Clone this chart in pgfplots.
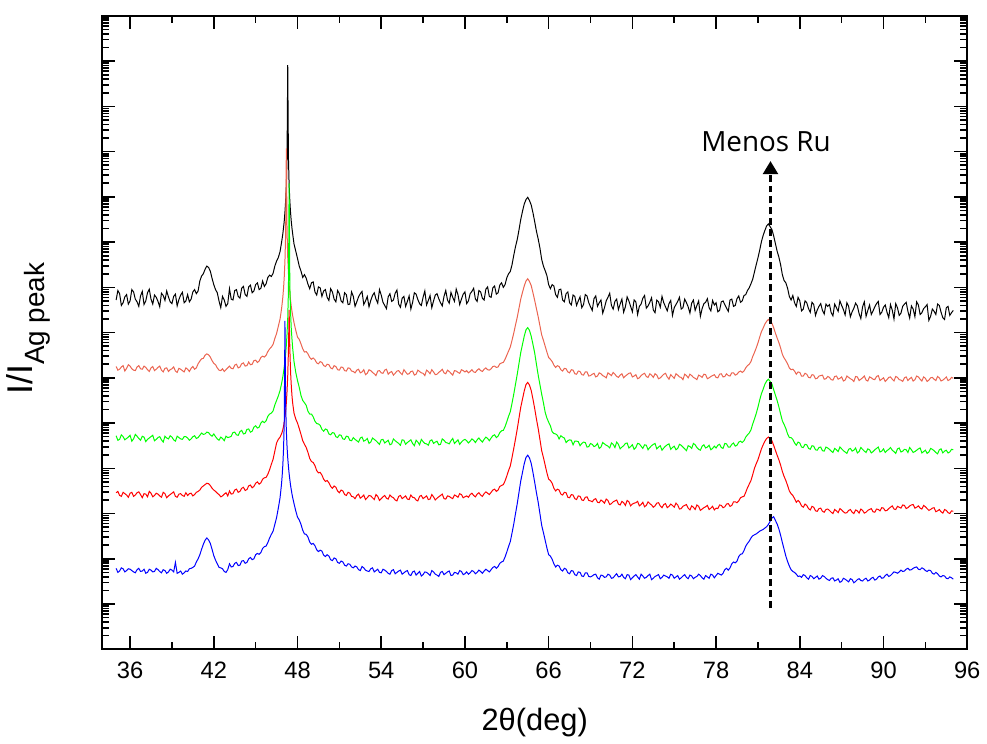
\documentclass[border=0pt]{standalone}
\usepackage{fontspec}
\setmainfont{Liberation Sans}
\newfontfamily\annfont{Open Sans}
\usepackage{pgfplots}
\pgfplotsset{compat=1.18}
\usepackage{pgfplotstable}
\usetikzlibrary{arrows.meta}
\definecolor{salmon}{RGB}{235,100,80}
\definecolor{lgreen}{RGB}{0,255,0}

% columns: 2theta, then log10 intensity (stacked) for the five patterns
\pgfplotstableread{
x k s g r b
35.000 7.72 6.25 4.72 3.46 1.79
35.125 7.93 6.17 4.62 3.49 1.70
35.250 7.86 6.19 4.64 3.40 1.73
35.375 7.60 6.24 4.74 3.38 1.80
35.500 7.66 6.27 4.70 3.47 1.78
35.625 7.79 6.15 4.63 3.44 1.71
35.750 7.84 6.21 4.66 3.41 1.74
35.875 7.63 6.29 4.69 3.36 1.78
36.000 7.70 6.26 4.73 3.45 1.77
36.125 7.95 6.20 4.60 3.47 1.74
36.250 7.90 6.17 4.65 3.38 1.71
36.375 7.74 6.16 4.75 3.41 1.69
36.500 7.68 6.24 4.71 3.46 1.76
36.625 7.58 6.27 4.66 3.48 1.79
36.750 7.81 6.20 4.62 3.42 1.72
36.875 7.91 6.19 4.71 3.35 1.73
37.000 7.62 6.26 4.69 3.44 1.77
37.125 7.70 6.23 4.59 3.43 1.68
37.250 7.88 6.18 4.64 3.37 1.70
37.375 7.96 6.14 4.67 3.49 1.77
37.500 7.74 6.22 4.70 3.45 1.75
37.625 7.63 6.25 4.73 3.37 1.71
37.750 7.83 6.16 4.61 3.40 1.72
37.875 7.78 6.19 4.64 3.45 1.79
38.000 7.69 6.23 4.68 3.43 1.76
38.125 7.57 6.26 4.70 3.39 1.72
38.250 7.87 6.17 4.63 3.36 1.69
38.375 7.82 6.13 4.58 3.47 1.76
38.500 7.71 6.21 4.71 3.44 1.74
38.625 7.92 6.22 4.67 3.35 1.68
38.750 7.79 6.14 4.65 3.39 1.71
38.875 7.68 6.18 4.72 3.42 1.77
39.000 7.64 6.20 4.69 3.45 1.75
39.125 7.80 6.24 4.63 3.48 1.71
39.250 7.85 6.15 4.60 3.38 1.92
39.375 7.59 6.12 4.71 3.36 1.68
39.500 7.73 6.21 4.68 3.43 1.70
39.625 7.83 6.19 4.65 3.44 1.73
39.750 7.89 6.16 4.64 3.40 1.66
39.875 7.66 6.13 4.70 3.38 1.69
40.000 7.70 6.22 4.70 3.46 1.73
40.125 7.84 6.19 4.67 3.40 1.72
40.250 7.68 6.14 4.62 3.44 1.78
40.375 7.74 6.21 4.65 3.45 1.79
40.500 7.90 6.25 4.70 3.39 1.81
40.625 7.95 6.19 4.72 3.42 1.84
40.750 7.86 6.22 4.66 3.47 1.93
40.875 7.92 6.31 4.68 3.49 2.00
41.000 8.14 6.37 4.73 3.52 2.09
41.125 8.25 6.42 4.78 3.58 2.21
41.250 8.30 6.43 4.75 3.61 2.32
41.375 8.40 6.50 4.76 3.64 2.41
41.500 8.47 6.53 4.80 3.67 2.46
41.625 8.44 6.51 4.79 3.66 2.42
41.750 8.36 6.46 4.74 3.62 2.34
41.875 8.20 6.38 4.71 3.56 2.21
42.000 8.06 6.32 4.76 3.52 2.07
42.125 7.95 6.29 4.70 3.49 1.97
42.250 7.88 6.22 4.65 3.45 1.89
42.375 7.70 6.17 4.62 3.42 1.81
42.500 7.55 6.16 4.69 3.37 1.80
42.625 7.80 6.20 4.66 3.39 1.78
42.750 7.72 6.14 4.61 3.43 1.72
42.875 7.58 6.18 4.71 3.46 1.70
43.000 7.64 6.22 4.68 3.39 1.76
43.125 7.97 6.26 4.69 3.50 1.89
43.250 7.74 6.21 4.71 3.43 1.82
43.375 7.72 6.20 4.79 3.44 1.83
43.500 7.93 6.28 4.80 3.52 1.90
43.625 7.95 6.30 4.74 3.54 1.92
43.750 7.80 6.22 4.73 3.47 1.85
43.875 7.76 6.24 4.81 3.49 1.86
44.000 7.98 6.31 4.84 3.56 1.95
44.125 8.02 6.33 4.76 3.58 1.96
44.250 7.84 6.26 4.77 3.51 1.90
44.375 7.80 6.27 4.86 3.53 1.92
44.500 8.01 6.35 4.87 3.61 2.00
44.625 8.05 6.29 4.80 3.63 2.03
44.750 7.88 6.30 4.82 3.57 1.98
44.875 7.92 6.38 4.91 3.60 2.00
45.000 8.06 6.39 4.94 3.67 2.09
45.125 8.10 6.34 4.89 3.70 2.12
45.250 7.95 6.37 4.91 3.65 2.10
45.375 7.98 6.45 5.00 3.68 2.14
45.500 8.14 6.48 5.04 3.76 2.23
45.625 8.02 6.46 5.01 3.79 2.27
45.750 8.08 6.50 5.05 3.80 2.28
45.875 8.22 6.58 5.15 3.87 2.36
46.000 8.27 6.64 5.20 3.97 2.46
46.125 8.24 6.68 5.22 4.09 2.54
46.250 8.31 6.74 5.27 4.20 2.61
46.375 8.47 6.87 5.40 4.38 2.76
46.500 8.58 6.98 5.50 4.56 2.91
46.625 8.66 7.14 5.60 4.64 3.12
46.750 8.79 7.30 5.72 4.69 3.35
46.850 8.98 7.51 5.86 4.76 3.64
46.900 9.08 7.64 5.94 4.80 3.83
46.950 9.19 7.79 6.03 4.86 4.08
47.000 9.32 7.98 6.13 4.93 4.43
47.050 9.47 8.23 6.24 5.02 5.03
47.100 9.66 8.58 6.37 5.13 7.26
47.150 9.91 9.18 6.53 5.27 5.44
47.200 10.26 11.07 6.72 5.45 4.83
47.250 10.86 9.26 6.97 5.70 4.48
47.300 12.91 8.66 7.32 6.05 4.23
47.350 10.86 8.31 7.92 6.60 4.04
47.400 10.26 8.06 10.30 7.50 3.88
47.450 9.91 7.87 8.07 6.65 3.75
47.500 9.66 7.72 7.47 6.15 3.63
47.550 9.47 7.59 7.11 5.85 3.53
47.600 9.32 7.48 6.87 5.62 3.44
47.650 9.19 7.38 6.67 5.45 3.36
47.750 8.96 7.22 6.36 5.22 3.22
47.875 8.80 7.05 6.12 5.09 3.06
48.000 8.64 6.90 5.94 5.00 2.92
48.125 8.47 6.85 5.79 4.88 2.86
48.250 8.36 6.75 5.61 4.75 2.76
48.375 8.22 6.64 5.50 4.61 2.63
48.500 8.28 6.57 5.45 4.53 2.55
48.625 8.20 6.58 5.39 4.46 2.54
48.750 8.07 6.53 5.26 4.35 2.48
48.875 7.97 6.45 5.20 4.22 2.37
49.000 8.10 6.41 5.20 4.15 2.32
49.125 8.12 6.44 5.14 4.13 2.34
49.250 7.90 6.40 5.04 4.06 2.29
49.375 7.83 6.33 4.99 3.95 2.20
49.500 8.01 6.31 4.98 3.90 2.16
49.625 7.99 6.36 4.95 3.91 2.19
49.750 7.80 6.34 4.86 3.85 2.17
49.875 7.92 6.27 4.82 3.76 2.08
50.000 7.95 6.25 4.87 3.71 2.05
50.125 7.78 6.30 4.85 3.73 2.09
50.250 7.71 6.29 4.76 3.68 2.06
50.375 7.97 6.22 4.74 3.60 1.98
50.500 7.90 6.20 4.79 3.56 1.96
50.625 7.74 6.27 4.78 3.61 2.02
50.750 7.68 6.25 4.70 3.58 2.00
50.875 7.93 6.18 4.68 3.50 1.92
51.000 7.86 6.17 4.74 3.46 1.90
51.125 7.70 6.24 4.73 3.52 1.95
51.250 7.66 6.23 4.65 3.50 1.93
51.375 7.88 6.16 4.64 3.42 1.86
51.500 7.84 6.15 4.71 3.40 1.84
51.625 7.62 6.22 4.70 3.47 1.89
51.750 7.63 6.21 4.62 3.45 1.88
51.875 7.90 6.15 4.61 3.38 1.82
52.000 7.80 6.14 4.68 3.37 1.80
52.125 7.58 6.11 4.64 3.33 1.84
52.250 7.68 6.17 4.61 3.40 1.82
52.375 7.79 6.19 4.58 3.43 1.76
52.500 7.86 6.11 4.67 3.34 1.74
52.625 7.91 6.13 4.69 3.37 1.83
52.750 7.62 6.18 4.60 3.41 1.80
52.875 7.70 6.07 4.62 3.31 1.75
53.000 7.80 6.10 4.66 3.35 1.73
53.125 7.57 6.18 4.55 3.40 1.72
53.250 7.71 6.16 4.58 3.39 1.78
53.375 7.82 6.12 4.67 3.35 1.80
53.500 7.88 6.09 4.64 3.31 1.71
53.625 7.74 6.05 4.61 3.42 1.74
53.750 7.65 6.15 4.57 3.38 1.77
53.875 7.95 6.16 4.53 3.29 1.70
54.000 7.83 6.11 4.63 3.33 1.69
54.125 7.67 6.10 4.64 3.37 1.77
54.250 7.60 6.17 4.56 3.40 1.75
54.375 7.53 6.19 4.59 3.34 1.72
54.500 7.79 6.08 4.62 3.32 1.68
54.625 7.86 6.12 4.52 3.41 1.66
54.750 7.69 6.14 4.54 3.37 1.74
54.875 7.72 6.06 4.65 3.35 1.76
55.000 7.87 6.10 4.61 3.30 1.67
55.125 7.94 6.15 4.58 3.28 1.70
55.250 7.63 6.16 4.55 3.38 1.73
55.375 7.56 6.11 4.51 3.40 1.75
55.500 7.76 6.07 4.63 3.33 1.66
55.625 7.80 6.18 4.62 3.36 1.69
55.750 7.58 6.13 4.53 3.39 1.72
55.875 7.69 6.08 4.57 3.32 1.74
56.000 7.81 6.09 4.60 3.31 1.65
56.125 7.52 6.14 4.63 3.41 1.63
56.250 7.67 6.15 4.55 3.36 1.71
56.375 7.88 6.06 4.50 3.35 1.73
56.500 7.85 6.08 4.62 3.30 1.64
56.625 7.73 6.17 4.58 3.28 1.68
56.750 7.64 6.14 4.52 3.38 1.72
56.875 7.60 6.11 4.64 3.40 1.62
57.000 7.78 6.10 4.59 3.33 1.65
57.125 7.92 6.05 4.55 3.36 1.71
57.250 7.61 6.17 4.54 3.39 1.70
57.375 7.71 6.14 4.51 3.31 1.67
57.500 7.82 6.09 4.61 3.32 1.63
57.625 7.55 6.18 4.63 3.42 1.74
57.750 7.70 6.13 4.55 3.37 1.71
57.875 7.83 6.07 4.58 3.30 1.66
58.000 7.86 6.08 4.60 3.34 1.64
58.125 7.75 6.12 4.52 3.37 1.61
58.250 7.66 6.15 4.53 3.40 1.70
58.375 7.59 6.19 4.65 3.43 1.72
58.500 7.80 6.11 4.62 3.33 1.65
58.625 7.93 6.09 4.57 3.32 1.68
58.750 7.72 6.17 4.56 3.39 1.71
58.875 7.65 6.14 4.54 3.38 1.73
59.000 7.89 6.10 4.61 3.35 1.63
59.125 7.78 6.06 4.66 3.33 1.64
59.250 7.69 6.16 4.55 3.41 1.70
59.375 7.96 6.15 4.59 3.39 1.69
59.500 7.84 6.12 4.63 3.36 1.66
59.625 7.62 6.10 4.53 3.44 1.74
59.750 7.74 6.18 4.58 3.42 1.72
59.875 7.85 6.16 4.62 3.35 1.65
60.000 7.90 6.13 4.64 3.37 1.67
60.125 7.64 6.16 4.61 3.39 1.71
60.250 7.70 6.11 4.56 3.36 1.66
60.375 7.86 6.14 4.60 3.42 1.69
60.500 7.91 6.18 4.65 3.45 1.74
60.625 7.98 6.13 4.62 3.40 1.72
60.750 7.74 6.12 4.57 3.37 1.67
60.875 7.69 6.17 4.63 3.43 1.70
61.000 7.93 6.20 4.67 3.46 1.75
61.125 7.90 6.16 4.62 3.41 1.72
61.250 7.76 6.14 4.58 3.38 1.68
61.375 7.72 6.19 4.64 3.44 1.73
61.500 7.96 6.22 4.69 3.48 1.77
61.625 8.01 6.18 4.66 3.45 1.74
61.750 7.80 6.17 4.61 3.42 1.71
61.875 7.78 6.20 4.67 3.47 1.76
62.000 7.99 6.25 4.72 3.52 1.81
62.125 8.03 6.26 4.74 3.54 1.83
62.250 7.85 6.23 4.68 3.49 1.79
62.375 7.88 6.24 4.71 3.52 1.83
62.500 8.05 6.31 4.79 3.60 1.90
62.625 8.10 6.33 4.83 3.62 1.93
62.750 8.00 6.34 4.84 3.64 1.95
62.875 8.06 6.41 4.92 3.72 2.04
63.000 8.21 6.50 5.03 3.83 2.15
63.125 8.30 6.59 5.15 3.95 2.27
63.250 8.35 6.68 5.25 4.05 2.38
63.375 8.50 6.83 5.44 4.24 2.57
63.500 8.71 6.99 5.64 4.44 2.77
63.625 8.90 7.17 5.86 4.65 3.00
63.750 9.06 7.34 6.08 4.87 3.22
63.875 9.27 7.54 6.32 5.11 3.47
64.000 9.50 7.74 6.56 5.35 3.72
64.125 9.68 7.89 6.74 5.53 3.91
64.250 9.84 8.03 6.92 5.71 4.10
64.375 9.94 8.14 7.06 5.85 4.24
64.500 9.99 8.19 7.11 5.90 4.29
64.625 9.92 8.13 7.05 5.84 4.23
64.750 9.82 8.04 6.92 5.72 4.11
64.875 9.65 7.88 6.74 5.53 3.91
65.000 9.45 7.71 6.55 5.32 3.69
65.125 9.24 7.53 6.30 5.09 3.46
65.250 9.07 7.35 6.06 4.88 3.25
65.375 8.87 7.15 5.85 4.64 3.00
65.500 8.62 6.95 5.64 4.39 2.74
65.625 8.47 6.83 5.45 4.24 2.58
65.750 8.37 6.70 5.24 4.07 2.41
65.875 8.26 6.57 5.11 3.90 2.24
66.000 8.06 6.45 5.02 3.76 2.09
66.125 7.97 6.41 4.94 3.73 2.06
66.250 8.06 6.36 4.81 3.67 1.99
66.375 8.03 6.28 4.77 3.56 1.89
66.500 7.84 6.23 4.76 3.50 1.82
66.625 7.78 6.27 4.73 3.54 1.86
66.750 7.95 6.25 4.65 3.52 1.84
66.875 7.96 6.18 4.72 3.43 1.76
67.000 7.72 6.15 4.69 3.41 1.73
67.125 7.68 6.21 4.67 3.47 1.79
67.250 7.86 6.20 4.57 3.46 1.77
67.375 7.90 6.13 4.61 3.36 1.69
67.500 7.66 6.11 4.63 3.35 1.67
67.625 7.61 6.18 4.62 3.42 1.74
67.750 7.83 6.17 4.52 3.41 1.73
67.875 7.80 6.09 4.60 3.33 1.65
68.000 7.60 6.08 4.60 3.31 1.63
68.125 7.70 6.15 4.59 3.39 1.71
68.250 7.79 6.14 4.50 3.38 1.70
68.375 7.55 6.07 4.55 3.30 1.62
68.500 7.62 6.06 4.58 3.29 1.61
68.625 7.84 6.13 4.57 3.36 1.69
68.750 7.81 6.13 4.47 3.37 1.69
68.875 7.66 6.04 4.48 3.29 1.61
69.000 7.57 6.05 4.55 3.28 1.60
69.125 7.49 6.08 4.53 3.26 1.62
69.250 7.75 6.10 4.48 3.31 1.65
69.375 7.81 6.02 4.50 3.33 1.66
69.500 7.58 6.04 4.55 3.25 1.58
69.625 7.66 6.11 4.44 3.24 1.55
69.750 7.72 6.09 4.47 3.30 1.64
69.875 7.43 6.05 4.57 3.27 1.63
70.000 7.55 6.03 4.54 3.23 1.59
70.125 7.70 6.00 4.51 3.32 1.60
70.250 7.78 6.11 4.49 3.29 1.66
70.375 7.87 6.08 4.45 3.20 1.64
70.500 7.60 6.05 4.56 3.22 1.57
70.625 7.52 6.12 4.53 3.26 1.58
70.750 7.69 6.08 4.46 3.28 1.63
70.875 7.74 6.03 4.58 3.30 1.67
71.000 7.51 6.01 4.53 3.21 1.60
71.125 7.63 6.06 4.43 3.19 1.61
71.250 7.74 6.09 4.47 3.27 1.66
71.375 7.45 6.00 4.50 3.24 1.59
71.500 7.57 6.04 4.55 3.18 1.56
71.625 7.79 6.07 4.56 3.29 1.65
71.750 7.70 6.10 4.45 3.26 1.64
71.875 7.58 6.11 4.48 3.17 1.54
72.000 7.46 6.02 4.52 3.21 1.58
72.125 7.72 6.04 4.42 3.23 1.62
72.250 7.68 6.07 4.46 3.24 1.65
72.375 7.40 5.98 4.55 3.27 1.60
72.500 7.58 6.00 4.54 3.17 1.55
72.625 7.63 6.05 4.49 3.20 1.66
72.750 7.76 6.08 4.44 3.25 1.62
72.875 7.82 6.10 4.52 3.15 1.57
73.000 7.54 6.03 4.51 3.18 1.59
73.125 7.59 6.01 4.41 3.26 1.63
73.250 7.67 6.09 4.46 3.22 1.66
73.375 7.77 6.06 4.50 3.19 1.54
73.500 7.50 6.01 4.53 3.14 1.57
73.625 7.44 6.09 4.55 3.17 1.61
73.750 7.72 6.06 4.43 3.23 1.63
73.875 7.68 5.98 4.47 3.24 1.65
74.000 7.56 6.00 4.50 3.17 1.56
74.125 7.80 6.04 4.40 3.13 1.59
74.250 7.66 6.08 4.45 3.20 1.64
74.375 7.57 6.10 4.49 3.22 1.62
74.500 7.48 6.02 4.52 3.13 1.60
74.625 7.64 5.97 4.54 3.16 1.57
74.750 7.71 6.07 4.42 3.21 1.66
74.875 7.38 6.03 4.46 3.18 1.64
75.000 7.55 5.99 4.49 3.14 1.57
75.125 7.62 6.09 4.41 3.23 1.60
75.250 7.69 6.06 4.44 3.19 1.63
75.375 7.78 6.02 4.53 3.10 1.55
75.500 7.52 6.01 4.51 3.11 1.58
75.625 7.55 5.96 4.47 3.16 1.62
75.750 7.74 6.08 4.43 3.18 1.65
75.875 7.66 6.05 4.39 3.20 1.59
76.000 7.57 6.00 4.50 3.12 1.56
76.125 7.43 6.08 4.48 3.08 1.64
76.250 7.65 6.05 4.44 3.17 1.62
76.375 7.72 6.01 4.55 3.14 1.56
76.500 7.49 5.99 4.52 3.09 1.59
76.625 7.60 5.96 4.46 3.19 1.61
76.750 7.70 6.06 4.42 3.16 1.66
76.875 7.36 6.04 4.40 3.07 1.63
77.000 7.53 6.01 4.49 3.10 1.58
77.125 7.64 6.08 4.52 3.13 1.55
77.250 7.67 6.07 4.45 3.15 1.63
77.375 7.75 5.98 4.47 3.18 1.60
77.500 7.55 6.00 4.51 3.09 1.57
77.625 7.48 6.03 4.41 3.12 1.66
77.750 7.71 6.05 4.44 3.16 1.64
77.875 7.61 6.07 4.49 3.08 1.58
78.000 7.66 6.01 4.45 3.12 1.63
78.125 7.46 6.00 4.51 3.11 1.68
78.250 7.49 6.08 4.53 3.19 1.66
78.375 7.68 6.09 4.46 3.18 1.64
78.500 7.70 6.02 4.44 3.13 1.68
78.625 7.62 6.03 4.55 3.15 1.76
78.750 7.54 6.09 4.54 3.21 1.79
78.875 7.47 6.05 4.47 3.22 1.75
79.000 7.72 6.04 4.47 3.16 1.80
79.125 7.74 6.11 4.53 3.18 1.89
79.250 7.58 6.11 4.56 3.26 1.93
79.375 7.60 6.06 4.49 3.26 1.91
79.500 7.75 6.08 4.51 3.24 1.95
79.625 7.81 6.13 4.58 3.28 2.05
79.750 7.67 6.15 4.60 3.35 2.10
79.875 7.70 6.12 4.57 3.37 2.11
80.000 7.82 6.15 4.61 3.38 2.18
80.125 7.84 6.22 4.69 3.47 2.28
80.250 7.93 6.27 4.74 3.57 2.34
80.375 7.99 6.30 4.78 3.65 2.39
80.500 8.08 6.36 4.85 3.73 2.46
80.625 8.18 6.47 4.98 3.86 2.51
80.750 8.34 6.56 5.09 4.00 2.53
80.875 8.50 6.66 5.21 4.10 2.55
81.000 8.65 6.77 5.35 4.19 2.58
81.125 8.82 6.90 5.51 4.31 2.61
81.250 9.01 7.02 5.65 4.43 2.63
81.375 9.15 7.10 5.75 4.52 2.65
81.500 9.26 7.19 5.86 4.60 2.68
81.625 9.36 7.25 5.93 4.66 2.71
81.750 9.40 7.29 5.97 4.69 2.76
81.875 9.34 7.24 5.92 4.65 2.83
82.000 9.28 7.21 5.87 4.61 2.90
82.125 9.14 7.11 5.74 4.51 2.93
82.250 8.97 6.99 5.62 4.40 2.85
82.375 8.80 6.88 5.50 4.29 2.77
82.500 8.67 6.78 5.36 4.19 2.66
82.625 8.50 6.66 5.20 4.07 2.52
82.750 8.28 6.52 5.05 3.93 2.36
82.875 8.15 6.44 4.97 3.82 2.21
83.000 8.10 6.38 4.88 3.73 2.06
83.125 7.98 6.31 4.76 3.62 1.94
83.250 7.80 6.22 4.68 3.50 1.84
83.375 7.72 6.18 4.68 3.44 1.76
83.500 7.82 6.19 4.64 3.40 1.72
83.625 7.66 6.15 4.56 3.33 1.70
83.750 7.58 6.08 4.51 3.25 1.66
83.875 7.78 6.13 4.58 3.29 1.61
84.000 7.70 6.12 4.56 3.25 1.62
84.125 7.48 6.04 4.47 3.17 1.59
84.250 7.52 6.04 4.46 3.14 1.65
84.375 7.70 6.10 4.53 3.21 1.63
84.500 7.66 6.08 4.52 3.18 1.58
84.625 7.53 6.01 4.44 3.11 1.55
84.750 7.45 6.00 4.42 3.08 1.63
84.875 7.67 6.07 4.50 3.16 1.61
85.000 7.62 6.06 4.49 3.14 1.56
85.125 7.38 5.98 4.41 3.06 1.59
85.250 7.50 5.99 4.40 3.05 1.62
85.375 7.58 6.04 4.46 3.11 1.55
85.500 7.64 6.05 4.47 3.12 1.57
85.625 7.49 6.06 4.39 3.05 1.63
85.750 7.41 5.97 4.38 3.03 1.61
85.875 7.63 5.98 4.47 3.09 1.57
86.000 7.58 6.03 4.45 3.10 1.54
86.125 7.62 6.01 4.42 3.07 1.52
86.250 7.44 5.96 4.38 3.03 1.57
86.375 7.37 5.95 4.35 3.00 1.58
86.500 7.63 6.03 4.44 3.09 1.51
86.625 7.55 6.04 4.41 3.06 1.53
86.750 7.47 5.97 4.37 3.02 1.56
86.875 7.70 5.99 4.47 3.11 1.48
87.000 7.60 6.02 4.43 3.08 1.50
87.125 7.51 5.93 4.39 3.04 1.57
87.250 7.39 5.95 4.36 3.01 1.55
87.375 7.66 6.04 4.33 3.02 1.52
87.500 7.58 6.01 4.42 3.07 1.49
87.625 7.35 5.98 4.44 3.09 1.56
87.750 7.46 5.96 4.38 3.03 1.54
87.875 7.54 5.92 4.40 3.00 1.47
88.000 7.65 6.03 4.45 3.08 1.50
88.125 7.59 6.02 4.34 3.06 1.54
88.250 7.42 5.94 4.37 3.01 1.56
88.375 7.31 5.97 4.46 3.10 1.52
88.500 7.57 6.00 4.42 3.07 1.51
88.625 7.68 6.04 4.38 3.01 1.55
88.750 7.36 5.95 4.35 3.03 1.57
88.875 7.49 5.93 4.43 3.07 1.51
89.000 7.61 6.02 4.41 3.09 1.53
89.125 7.40 6.00 4.34 3.11 1.57
89.250 7.48 5.97 4.37 3.04 1.59
89.375 7.57 5.96 4.41 3.03 1.53
89.500 7.64 6.03 4.44 3.10 1.55
89.625 7.69 6.05 4.47 3.09 1.60
89.750 7.40 5.94 4.36 3.06 1.62
89.875 7.45 5.97 4.38 3.13 1.57
90.000 7.56 6.00 4.43 3.12 1.58
90.125 7.61 5.92 4.35 3.06 1.63
90.250 7.45 5.96 4.39 3.07 1.66
90.375 7.33 6.01 4.42 3.11 1.61
90.500 7.62 6.02 4.46 3.14 1.63
90.625 7.50 5.97 4.40 3.17 1.67
90.750 7.30 5.93 4.37 3.10 1.71
90.875 7.64 6.03 4.33 3.09 1.70
91.000 7.55 6.01 4.43 3.16 1.68
91.125 7.38 5.96 4.45 3.14 1.71
91.250 7.43 5.95 4.36 3.12 1.75
91.375 7.58 5.92 4.38 3.19 1.72
91.500 7.63 6.00 4.42 3.18 1.73
91.625 7.67 6.02 4.41 3.11 1.77
91.750 7.47 5.94 4.35 3.13 1.79
91.875 7.32 5.98 4.46 3.17 1.75
92.000 7.59 6.01 4.41 3.19 1.76
92.125 7.52 5.93 4.35 3.20 1.79
92.250 7.35 5.96 4.37 3.12 1.81
92.375 7.68 6.04 4.40 3.14 1.82
92.500 7.61 6.02 4.43 3.17 1.77
92.625 7.40 5.97 4.45 3.12 1.76
92.750 7.44 5.93 4.34 3.10 1.80
92.875 7.53 6.02 4.37 3.18 1.78
93.000 7.57 5.99 4.40 3.15 1.74
93.125 7.62 5.92 4.33 3.11 1.72
93.250 7.27 5.95 4.36 3.07 1.75
93.375 7.36 6.00 4.44 3.09 1.74
93.500 7.52 6.01 4.42 3.12 1.68
93.625 7.47 5.97 4.39 3.13 1.66
93.750 7.40 5.94 4.35 3.04 1.70
93.875 7.63 6.03 4.32 3.06 1.67
94.000 7.60 6.00 4.41 3.09 1.62
94.125 7.45 5.93 4.43 3.04 1.60
94.250 7.33 5.95 4.34 3.01 1.63
94.375 7.29 5.98 4.38 3.09 1.62
94.500 7.55 6.02 4.40 3.07 1.57
94.625 7.58 5.94 4.34 3.02 1.56
94.750 7.38 5.96 4.36 3.00 1.60
94.875 7.44 6.01 4.42 3.06 1.58
95.000 7.49 5.99 4.41 3.05 1.55
}\xrd

\begin{document}
\begin{tikzpicture}
\begin{axis}[
  name=ax, at={(0,0)}, anchor=south west,
  scale only axis, width=435pt, height=318.5pt,
  xmin=34, xmax=96, ymin=0, ymax=14,
  xtick={36,42,...,96}, minor x tick num=1,
  ytick={0,1,...,14}, yticklabels={},
  minor ytick={0.301,0.477,0.602,0.699,0.778,0.845,0.903,0.954,
   1.301,1.477,1.602,1.699,1.778,1.845,1.903,1.954,
   2.301,2.477,2.602,2.699,2.778,2.845,2.903,2.954,
   3.301,3.477,3.602,3.699,3.778,3.845,3.903,3.954,
   4.301,4.477,4.602,4.699,4.778,4.845,4.903,4.954,
   5.301,5.477,5.602,5.699,5.778,5.845,5.903,5.954,
   6.301,6.477,6.602,6.699,6.778,6.845,6.903,6.954,
   7.301,7.477,7.602,7.699,7.778,7.845,7.903,7.954,
   8.301,8.477,8.602,8.699,8.778,8.845,8.903,8.954,
   9.301,9.477,9.602,9.699,9.778,9.845,9.903,9.954,
   10.301,10.477,10.602,10.699,10.778,10.845,10.903,10.954,
   11.301,11.477,11.602,11.699,11.778,11.845,11.903,11.954,
   12.301,12.477,12.602,12.699,12.778,12.845,12.903,12.954,
   13.301,13.477,13.602,13.699,13.778,13.845,13.903,13.954},
  tick align=inside,
  major tick length=6.5pt, minor tick length=3.5pt,
  axis line style={line width=1pt},
  tick style={black, line width=0.8pt},
  /pgf/number format/assume math mode=true,
  xticklabel style={font=\fontsize{11.9}{14}\selectfont, yshift=-3pt},
]
\addplot[black, line width=0.5pt] table[x=x,y=k]{\xrd};
\addplot[salmon, line width=0.5pt] table[x=x,y=s]{\xrd};
\addplot[lgreen, line width=0.5pt] table[x=x,y=g]{\xrd};
\addplot[red, line width=0.5pt] table[x=x,y=r]{\xrd};
\addplot[blue, line width=0.5pt] table[x=x,y=b]{\xrd};
\draw[line width=1.2pt, dash pattern=on 3.5pt off 2pt,
  -{Triangle[length=6.5pt,width=7.5pt]}]
  (axis cs:81.9,0.91) -- (axis cs:81.9,10.79);
\node[anchor=base, font=\annfont\fontsize{14}{16}\selectfont]
  at (axis cs:81.58,11.0) {Menos Ru};
\end{axis}
\node[anchor=base, font=\fontsize{15.5}{18}\selectfont]
  at ([yshift=-41pt]ax.south) {2θ(deg)};
\node[rotate=90, anchor=base, font=\fontsize{18}{20}\selectfont]
  at ([xshift=-35pt,yshift=2pt]ax.west)
  {I/I\raisebox{-6pt}{\fontsize{14}{16}\selectfont Ag peak}};
\path (-50pt,-47pt) rectangle (443.5pt,326.5pt);
\end{tikzpicture}
\end{document}
